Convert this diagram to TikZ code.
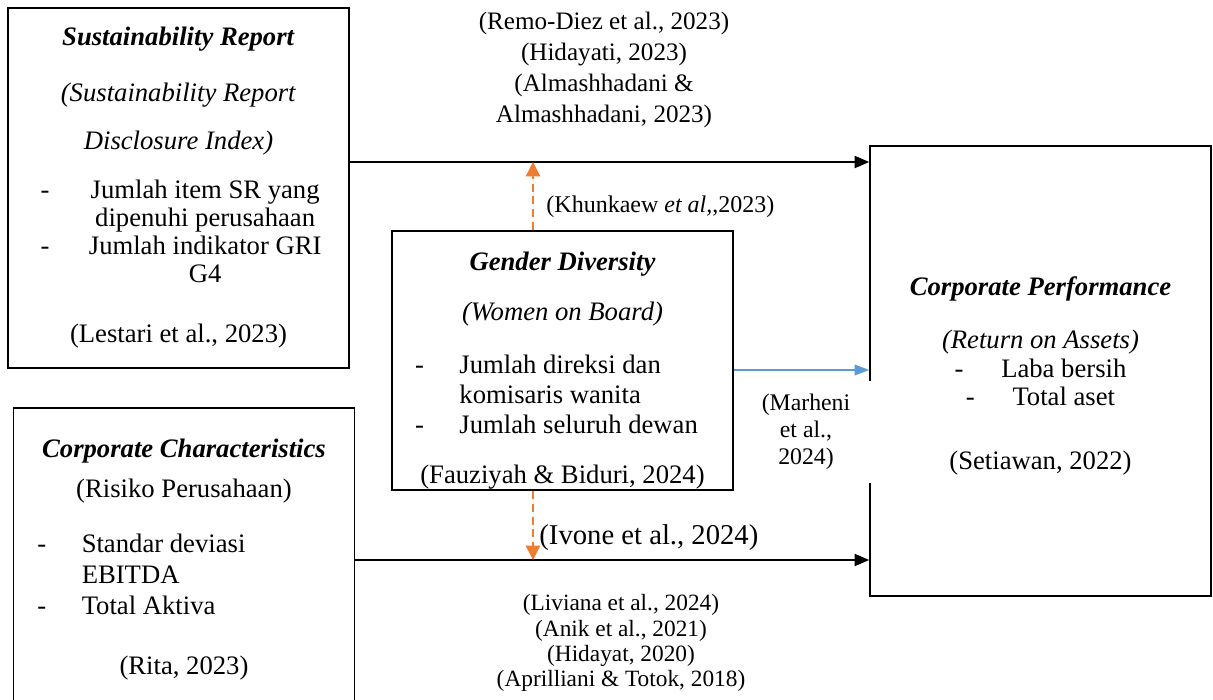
\documentclass[tikz,border=0pt]{standalone}
\usepackage{fontspec}
\setmainfont{Liberation Serif}
\usetikzlibrary{positioning,arrows.meta}

\definecolor{modorange}{HTML}{ED7D31}
\definecolor{linkblue}{HTML}{5B9BD5}

\newcommand{\srline}[2]{\makebox[24pt][l]{#1}\makebox[100pt]{#2}}
\newcommand{\hangline}[3]{\makebox[#1][l]{\makebox[20pt][l]{#2}#3}}

\tikzset{
  varbox/.style = {draw, line width=0.7pt, inner sep=0pt, minimum width=153.5pt},
  ref/.style = {inner sep=0pt, font=\fontsize{10.8}{12}\selectfont},
  mainarrow/.style = {-{Triangle[length=6.5pt,width=5.5pt]}, line width=0.5pt},
  modarrow/.style = {-{Triangle[length=6.5pt,width=6.5pt]}, draw=modorange, fill=modorange,
    line width=0.6pt, dash pattern=on 3.6pt off 2.2pt},
  directarrow/.style = {-{Triangle[length=6.5pt,width=4.8pt]}, draw=linkblue, fill=linkblue,
    line width=0.6pt}
}

\begin{document}
\begin{tikzpicture}[x=0.45pt, y=-0.45pt, nodes = {align = center}]
    \useasboundingbox (0,0) rectangle (1213,700);
    \clip (0,0) rectangle (1213,700);

    \node (sr) [varbox, minimum height=162pt, font=\fontsize{12}{12.6}\selectfont] at (178.5,188)
{\textbf{\textit{Sustainability Report}}\\[12.6pt]
\textit{(Sustainability Report}\\[9pt]
\textit{Disclosure Index)}\\[9.4pt]
\srline{-}{Jumlah item SR yang}\\
\srline{}{dipenuhi perusahaan}\\
\srline{-}{Jumlah indikator GRI}\\
\srline{}{G4}\\[14.4pt]
(Lestari et al., 2023)};
    \node (cc) [varbox, minimum height=133.2pt, font=\fontsize{12}{14}\selectfont] at (184,556)
{\rule{0pt}{11.5pt}\textbf{\textit{Corporate Characteristics}}\\[4pt]
(Risiko Perusahaan)\\[10.75pt]
\hangline{132pt}{-}{Standar deviasi}\\
\hangline{132pt}{}{EBITDA}\\
\hangline{132pt}{-}{Total Aktiva}\\[13pt]
(Rita, 2023)};
    \node (gd) [varbox, minimum height=116.5pt, font=\fontsize{12}{13.5}\selectfont] at (562.5,360.5)
{\rule{0pt}{17pt}\textbf{\textit{Gender Diversity}}\\[9pt]
\textit{(Women on Board)}\\[10.35pt]
\hangline{132.75pt}{-}{Jumlah direksi dan}\\
\hangline{132.75pt}{}{komisaris wanita}\\
\hangline{132.75pt}{-}{Jumlah seluruh dewan}\\[9pt]
(Fauziyah \& Biduri, 2024)};
    \node (cp) [varbox, minimum height=202.5pt, font=\fontsize{12}{13}\selectfont] at (1040.5,371)
{\rule{0pt}{13pt}\textbf{\textit{Corporate Performance}}\\[10.85pt]
\textit{(Return on Assets)}\\
-\hspace{17pt}Laba bersih\\
-\hspace{17pt}Total aset\\[15.8pt]
(Setiawan, 2022)};

    \coordinate (toprow) at (0,162);
    \coordinate (midrow) at (0,370);
    \coordinate (lowrow) at (0,560);
    \coordinate (modx) at (533,0);

    \draw[mainarrow] (sr.east |- toprow) -- (cp.west |- toprow);
    \draw[mainarrow] (cc.east |- lowrow) -- (cp.west |- lowrow);
    \draw[modarrow] (gd.north -| modx) -- (modx |- toprow);
    \draw[modarrow] (gd.south -| modx) -- (modx |- lowrow);
    \draw[directarrow] (gd.east |- midrow) -- (cp.west |- midrow);

    \node (refsr) [ref, font=\fontsize{11.3}{14}\selectfont] at (604,70)
{(Remo-Diez et al., 2023)\\(Hidayati, 2023)\\(Almashhadani \&\\Almashhadani, 2023)};
    \node (refgdtop) [ref, anchor=west] at (546,207) {(Khunkaew \textit{et al,},2023)};
    \node (refgd) [ref, fill=white, minimum width=60pt, minimum height=46pt,
      font=\fontsize{10.7}{12.2}\selectfont] at (806,432) {(Marheni\\et al.,\\2024)};
    \node (refgdlow) [ref, anchor=west, font=\fontsize{12.9}{15}\selectfont] at (539,538)
{(Ivone et al., 2024)};
    \node (refcc) [ref, font=\fontsize{10.5}{11.3}\selectfont] at (621,643)
{(Liviana et al., 2024)\\(Anik et al., 2021)\\(Hidayat, 2020)\\(Aprilliani \& Totok, 2018)};
\end{tikzpicture}
\end{document}
